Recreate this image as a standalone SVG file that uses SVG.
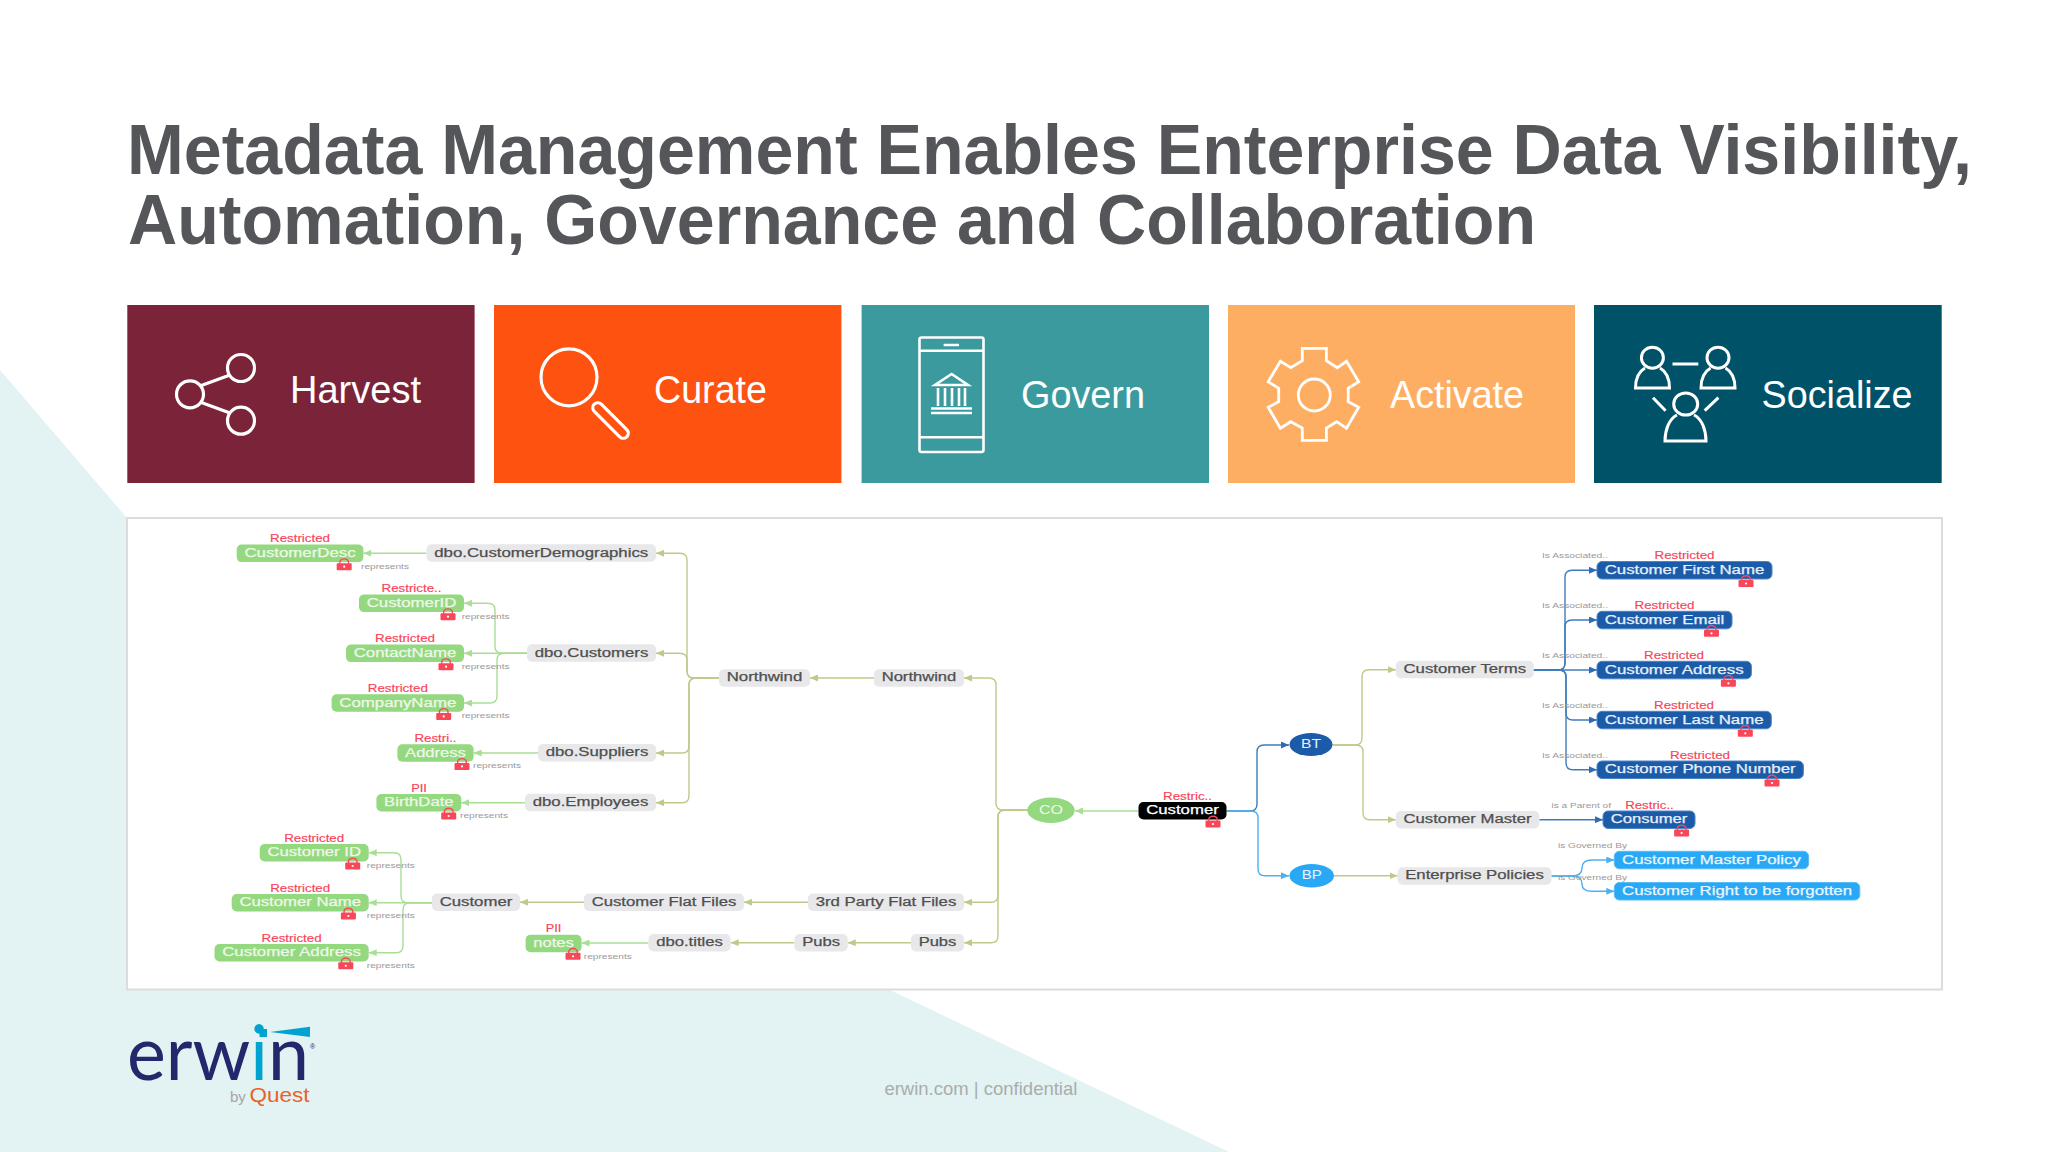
<svg xmlns="http://www.w3.org/2000/svg" width="2048" height="1152" viewBox="0 0 2048 1152">
<style>
text{font-family:"Liberation Sans",Arial,sans-serif}
.title{font-size:70px;font-weight:700;fill:#54565a}
.card{font-size:39px;fill:#fff}
.ic{fill:none;stroke:#fff;stroke-width:3.2;stroke-linejoin:miter}
.p{rx:5px;ry:5px}
.g{fill:#e8e8ea}.g+text{fill:#4f4f4f;stroke:#4f4f4f}
.l{fill:#94d87f}.l+text{fill:#edf8e8;stroke:#edf8e8}
.b{fill:#1c5ba8;stroke:#4a86c8;stroke-width:1}.b+text{fill:#e6f0fa;stroke:#e6f0fa}
.s{fill:#29a8f5;stroke:#5abcf5;stroke-width:1}.s+text{fill:#eaf6ff;stroke:#eaf6ff}
.k{fill:#000}.k+text{fill:#fff;stroke:#fff}
.t{font-size:12px;stroke-width:.25px}
.r{font-size:10px;fill:#f9435a;text-anchor:middle;stroke:#f9435a;stroke-width:.15px;transform:translateY(.8px)}
.e{font-size:6.8px;fill:#9a9a9a}
.c{fill:none;stroke-width:1.4}
.co{stroke:#bccb8a}.cg{stroke:#a9de95}.cb{stroke:#3f7cbd}.cs{stroke:#4fb0f0}
.c.co{marker-end:url(#ao)}.c.cg{marker-end:url(#ag)}.c.cb{marker-end:url(#ab)}.c.cs{marker-end:url(#as)}
.logo{font-family:Lato,"Liberation Sans",sans-serif}
</style>
<defs>
<marker id="ao" markerUnits="userSpaceOnUse" markerWidth="9" markerHeight="7" refX="8" refY="3.5" orient="auto"><path d="M8,0 V7 L0,3.5 Z" transform="rotate(180 4 3.5)" fill="#bccb8a"/></marker>
<marker id="ag" markerUnits="userSpaceOnUse" markerWidth="9" markerHeight="7" refX="8" refY="3.5" orient="auto"><path d="M8,0 V7 L0,3.5 Z" transform="rotate(180 4 3.5)" fill="#a9de95"/></marker>
<marker id="ab" markerUnits="userSpaceOnUse" markerWidth="9" markerHeight="7" refX="8" refY="3.5" orient="auto"><path d="M8,0 V7 L0,3.5 Z" transform="rotate(180 4 3.5)" fill="#2f6db3"/></marker>
<marker id="as" markerUnits="userSpaceOnUse" markerWidth="9" markerHeight="7" refX="8" refY="3.5" orient="auto"><path d="M8,0 V7 L0,3.5 Z" transform="rotate(180 4 3.5)" fill="#4fb0f0"/></marker>
<g id="lock"><path d="M-4.3,-1 V-2.6 A4.3,3.2 0 0 1 4.3,-2.6 V-1" fill="none" stroke="#f9475a" stroke-width="1.4"/><rect x="-7.5" y="-1.5" width="15" height="7" rx="1" fill="#f9475a"/><circle cx="0" cy="2" r="1.1" fill="#fff"/></g>
</defs>
<rect width="2048" height="1152" fill="#fff"/>
<polygon points="0,370 127,518 127,990 890,990 1229,1152 0,1152" fill="#e3f2f2"/>
<text class="title" x="127" y="174.3" textLength="1845" lengthAdjust="spacingAndGlyphs">Metadata Management Enables Enterprise Data Visibility,</text>
<text class="title" x="128" y="244" textLength="1408" lengthAdjust="spacingAndGlyphs">Automation, Governance and Collaboration</text>

<g id="card-harvest"><rect x="127.3" y="305" width="347.3" height="178" fill="#7b2439"/>
<g class="ic"><circle cx="190" cy="394.3" r="13.5"/><circle cx="241" cy="368" r="13.5"/><circle cx="241" cy="420.7" r="13.5"/><path d="M200,386 L230,375 M200,402 L230,413"/></g>
<text class="card" x="290" y="403" textLength="131" lengthAdjust="spacingAndGlyphs">Harvest</text></g>
<g id="card-curate"><rect x="494" y="305" width="347.4" height="178" fill="#fe5211"/>
<g class="ic"><ellipse cx="569" cy="377.3" rx="28" ry="28.5"/><rect x="605.5" y="397.5" width="10" height="46" rx="5" transform="rotate(-45 610.5 420.5)"/></g>
<text class="card" x="654" y="403" textLength="113" lengthAdjust="spacingAndGlyphs">Curate</text></g>
<g id="card-govern"><rect x="861.6" y="305" width="347.4" height="178" fill="#3a9a9e"/>
<g class="ic" style="stroke-width:2.6"><rect x="919.5" y="337.5" width="64" height="114.5" rx="2"/><path d="M919.5,350.7 H983.5 M919.5,437.3 H983.5 M943.6,345 H959"/>
<path d="M951.6,374 L935,385 H968 Z M938,388 V406 M945,388 V406 M952,388 V406 M959,388 V406 M965,388 V406 M931,408.5 H972 M931,413 H972"/></g>
<text class="card" x="1021" y="408" textLength="124" lengthAdjust="spacingAndGlyphs">Govern</text></g>
<g id="card-activate"><rect x="1228" y="305" width="347" height="178" fill="#feae63"/>
<g class="ic" style="stroke-width:2.8"><polygon points="1302.3,348.3 1326.4,348.3 1326.4,360.7 1337.3,367.7 1346.5,361.3 1358.7,381.7 1348.2,388.3 1348.2,401.7 1358.7,407.3 1346.5,428.3 1336.7,421.7 1326.4,428 1326.4,440.3 1302.3,440.3 1302.3,428 1290.8,421.7 1280.4,428.3 1268.2,407.3 1278.7,401.7 1278.7,388.3 1268.2,381.7 1280.4,361.3 1290.8,367.7 1302.3,360.7"/><ellipse cx="1314.3" cy="395" rx="16" ry="16"/></g>
<text class="card" x="1390" y="408" textLength="134" lengthAdjust="spacingAndGlyphs">Activate</text></g>
<g id="card-socialize"><rect x="1594" y="305" width="347.7" height="178" fill="#005269"/>
<g class="ic" style="stroke-width:3"><ellipse cx="1652.4" cy="357.7" rx="11" ry="10.5"/><path d="M1645,368 C1638,372 1635.5,380 1635.5,388 H1669.5 C1669.5,380 1667,372 1660,368"/>
<ellipse cx="1718" cy="357.7" rx="11" ry="10.5"/><path d="M1710.6,368 C1703.6,372 1701,380 1701,388 H1735 C1735,380 1732.5,372 1725.5,368"/>
<ellipse cx="1685.7" cy="404" rx="12" ry="11"/><path d="M1677,415 C1669,419 1665,430 1665,441 H1706 C1706,430 1702,419 1694,415"/>
<path d="M1672.5,364 H1698.3 M1653,397.7 L1665.6,410.7 M1718.4,397.7 L1704.7,410.7"/></g>
<text class="card" x="1761.5" y="408" textLength="151" lengthAdjust="spacingAndGlyphs">Socialize</text></g>

<rect id="panel" x="127" y="518" width="1815" height="471.5" fill="#fff" stroke="#dcdcdc" stroke-width="2"/>

<g id="connectors">
<path class="c co" d="M1027.6 810 H1003 Q996 810 996 803 V685 Q996 678 989 678 H964"/>
<path class="c co" d="M1027.6 810 H1005 Q998 810 998 817 V895.3 Q998 902.3 991 902.3 H964"/>
<path class="c co" d="M1027.6 810 H1005 Q998 810 998 817 V935.7 Q998 942.7 991 942.7 H964"/>
<path class="c co" d="M874 678 H810"/>
<path class="c co" d="M719 678 H694 Q687 678 687 671 V560.3 Q687 553.3 680 553.3 H656"/>
<path class="c co" d="M719 678 H694 Q687 678 687 671 V660.3 Q687 653.3 680 653.3 H656"/>
<path class="c co" d="M719 678 H696 Q689 678 689 685 V746 Q689 753 682 753 H656"/>
<path class="c co" d="M719 678 H696 Q689 678 689 685 V795.7 Q689 802.7 682 802.7 H656"/>
<path class="c co" d="M808 902.3 H744"/>
<path class="c co" d="M584 902.3 H520"/>
<path class="c co" d="M911 942.7 H847.7"/>
<path class="c co" d="M794.5 942.7 H730.6"/>
<path class="c co" d="M1332.5 745 H1355 Q1362 745 1362 738 V676.7 Q1362 669.7 1369 669.7 H1395.8"/>
<path class="c co" d="M1332.5 745 H1356 Q1363 745 1363 752 V812.7 Q1363 819.7 1370 819.7 H1395.8"/>
<path class="c co" d="M1334 875.7 H1397.5"/>
<path class="c cg" d="M426.5 553.3 H363.4"/>
<path class="c cg" d="M527 653.3 H502 Q495 653.3 495 646.3 V610.3 Q495 603.3 488 603.3 H464"/>
<path class="c cg" d="M527 653.3 H464"/>
<path class="c cg" d="M527 653.3 H504 Q497 653.3 497 660.3 V696 Q497 703 490 703 H464"/>
<path class="c cg" d="M538 753 H473.6"/>
<path class="c cg" d="M525 802.7 H461.3"/>
<path class="c cg" d="M432 902.7 H408 Q401 902.7 401 895.7 V859.7 Q401 852.7 394 852.7 H368.7"/>
<path class="c cg" d="M432 902.7 H368.7"/>
<path class="c cg" d="M432 902.7 H410 Q403 902.7 403 909.7 V945.7 Q403 952.7 396 952.7 H368.7"/>
<path class="c cg" d="M648.5 943 H581.5"/>
<path class="c cg" d="M1138.5 811 H1075"/>
<path class="c cb" d="M1226.5 811 H1250 Q1257 811 1257 804 V752 Q1257 745 1264 745 H1289"/>
<path class="c cs" d="M1226.5 811 H1251 Q1258 811 1258 818 V868.7 Q1258 875.7 1265 875.7 H1289"/>
<path class="c cb" d="M1533.7 670 H1558 Q1565 670 1565 663 V577.3 Q1565 570.3 1572 570.3 H1597"/>
<path class="c cb" d="M1533.7 670 H1558 Q1565 670 1565 663 V627 Q1565 620 1572 620 H1597"/>
<path class="c cb" d="M1533.7 670 H1597"/>
<path class="c cb" d="M1533.7 670 H1559 Q1566 670 1566 677 V713 Q1566 720 1573 720 H1597"/>
<path class="c cb" d="M1533.7 670 H1559 Q1566 670 1566 677 V762.7 Q1566 769.7 1573 769.7 H1597"/>
<path class="c cb" d="M1539.3 819.7 H1603"/>
<path class="c cs" d="M1551.5 876 H1572 Q1582 876 1582 868 Q1582 860 1592 860 H1614.3"/>
<path class="c cs" d="M1551.5 876 H1572 Q1582 876 1582 884 Q1582 891.3 1592 891.3 H1614.3"/>
<text class="e" x="361" y="568.6" textLength="48" lengthAdjust="spacingAndGlyphs">represents</text>
<text class="e" x="461.7" y="618.6" textLength="48" lengthAdjust="spacingAndGlyphs">represents</text>
<text class="e" x="461.7" y="668.6" textLength="48" lengthAdjust="spacingAndGlyphs">represents</text>
<text class="e" x="461.7" y="718.3" textLength="48" lengthAdjust="spacingAndGlyphs">represents</text>
<text class="e" x="473" y="768.3" textLength="48" lengthAdjust="spacingAndGlyphs">represents</text>
<text class="e" x="460" y="818" textLength="48" lengthAdjust="spacingAndGlyphs">represents</text>
<text class="e" x="366.8" y="868" textLength="48" lengthAdjust="spacingAndGlyphs">represents</text>
<text class="e" x="366.8" y="918" textLength="48" lengthAdjust="spacingAndGlyphs">represents</text>
<text class="e" x="366.8" y="968" textLength="48" lengthAdjust="spacingAndGlyphs">represents</text>
<text class="e" x="583.8" y="958.7" textLength="48" lengthAdjust="spacingAndGlyphs">represents</text>
<text class="e" x="1542" y="558.4" textLength="66" lengthAdjust="spacingAndGlyphs">Is Associated..</text>
<text class="e" x="1542" y="608.4" textLength="66" lengthAdjust="spacingAndGlyphs">Is Associated..</text>
<text class="e" x="1542" y="658.4" textLength="66" lengthAdjust="spacingAndGlyphs">Is Associated..</text>
<text class="e" x="1542" y="708.2" textLength="66" lengthAdjust="spacingAndGlyphs">Is Associated..</text>
<text class="e" x="1542" y="758" textLength="66" lengthAdjust="spacingAndGlyphs">Is Associated..</text>
<text class="e" x="1551.5" y="807.7" textLength="59.5" lengthAdjust="spacingAndGlyphs">is a Parent of</text>
<text class="e" x="1558" y="848.3" textLength="69" lengthAdjust="spacingAndGlyphs">is Governed By</text>
<text class="e" x="1558" y="879.6" textLength="69" lengthAdjust="spacingAndGlyphs">is Governed By</text>
</g>

<g id="n-customerdesc"><text class="r" x="300" y="541.4" textLength="60" lengthAdjust="spacingAndGlyphs">Restricted</text><rect class="p l" x="236.7" y="544.6" width="126.7" height="17.5"/><text class="t" x="244.4" y="556.8" textLength="111.3" lengthAdjust="spacingAndGlyphs">CustomerDesc</text><use href="#lock" x="344.2" y="564.7"/></g>
<g id="n-customerid"><text class="r" x="411.5" y="591.4" textLength="60" lengthAdjust="spacingAndGlyphs">Restricte..</text><rect class="p l" x="359" y="594.6" width="105" height="17.5"/><text class="t" x="366.7" y="606.8" textLength="89.6" lengthAdjust="spacingAndGlyphs">CustomerID</text><use href="#lock" x="448" y="614.7"/></g>
<g id="n-contactname"><text class="r" x="405" y="641.4" textLength="60" lengthAdjust="spacingAndGlyphs">Restricted</text><rect class="p l" x="346" y="644.6" width="118" height="17.5"/><text class="t" x="353.7" y="656.8" textLength="102.6" lengthAdjust="spacingAndGlyphs">ContactName</text><use href="#lock" x="446" y="664.7"/></g>
<g id="n-companyname"><text class="r" x="397.8" y="691.1" textLength="60" lengthAdjust="spacingAndGlyphs">Restricted</text><rect class="p l" x="331.6" y="694.3" width="132.4" height="17.5"/><text class="t" x="339.3" y="706.5" textLength="117" lengthAdjust="spacingAndGlyphs">CompanyName</text><use href="#lock" x="443.7" y="714.4"/></g>
<g id="n-address"><text class="r" x="435.5" y="741.1" textLength="42" lengthAdjust="spacingAndGlyphs">Restri..</text><rect class="p l" x="397.4" y="744.3" width="76.2" height="17.5"/><text class="t" x="405.1" y="756.5" textLength="60.8" lengthAdjust="spacingAndGlyphs">Address</text><use href="#lock" x="462" y="764.4"/></g>
<g id="n-birthdate"><text class="r" x="419" y="790.8" textLength="15.7" lengthAdjust="spacingAndGlyphs">PII</text><rect class="p l" x="376.4" y="794" width="84.9" height="17.5"/><text class="t" x="384.1" y="806.2" textLength="69.5" lengthAdjust="spacingAndGlyphs">BirthDate</text><use href="#lock" x="448.7" y="814"/></g>
<g id="n-customer-id"><text class="r" x="314.2" y="840.8" textLength="60" lengthAdjust="spacingAndGlyphs">Restricted</text><rect class="p l" x="259.7" y="844" width="109" height="17.5"/><text class="t" x="267.4" y="856.2" textLength="93.6" lengthAdjust="spacingAndGlyphs">Customer ID</text><use href="#lock" x="352.7" y="864"/></g>
<g id="n-customer-name"><text class="r" x="300.2" y="890.8" textLength="60" lengthAdjust="spacingAndGlyphs">Restricted</text><rect class="p l" x="231.7" y="894" width="137" height="17.5"/><text class="t" x="239.4" y="906.2" textLength="121.6" lengthAdjust="spacingAndGlyphs">Customer Name</text><use href="#lock" x="348.4" y="914"/></g>
<g id="n-customer-address"><text class="r" x="291.6" y="940.8" textLength="60" lengthAdjust="spacingAndGlyphs">Restricted</text><rect class="p l" x="214.5" y="944" width="154.2" height="17.5"/><text class="t" x="222.2" y="956.2" textLength="138.8" lengthAdjust="spacingAndGlyphs">Customer Address</text><use href="#lock" x="345.8" y="963.8"/></g>
<g id="n-notes"><text class="r" x="553.5" y="931.5" textLength="15.7" lengthAdjust="spacingAndGlyphs">PII</text><rect class="p l" x="525.6" y="934.7" width="55.9" height="17.5"/><text class="t" x="533.3" y="946.8" textLength="40.5" lengthAdjust="spacingAndGlyphs">notes</text><use href="#lock" x="573" y="954.3"/></g>

<g id="n-dbo-customerdemographics"><rect class="p g" x="426.5" y="544.3" width="229.5" height="17.5"/><text class="t" x="434.2" y="556.5" textLength="214.1" lengthAdjust="spacingAndGlyphs">dbo.CustomerDemographics</text></g>
<g id="n-dbo-customers"><rect class="p g" x="527" y="644.3" width="129" height="17.5"/><text class="t" x="534.7" y="656.5" textLength="113.6" lengthAdjust="spacingAndGlyphs">dbo.Customers</text></g>
<g id="n-dbo-suppliers"><rect class="p g" x="538" y="744" width="118" height="17.5"/><text class="t" x="545.7" y="756.2" textLength="102.6" lengthAdjust="spacingAndGlyphs">dbo.Suppliers</text></g>
<g id="n-dbo-employees"><rect class="p g" x="525" y="793.7" width="131" height="17.5"/><text class="t" x="532.7" y="805.9" textLength="115.6" lengthAdjust="spacingAndGlyphs">dbo.Employees</text></g>
<g id="n-northwind-1"><rect class="p g" x="719" y="669.2" width="91" height="17.5"/><text class="t" x="726.7" y="681.4" textLength="75.6" lengthAdjust="spacingAndGlyphs">Northwind</text></g>
<g id="n-northwind-2"><rect class="p g" x="874" y="669.2" width="90" height="17.5"/><text class="t" x="881.7" y="681.4" textLength="74.6" lengthAdjust="spacingAndGlyphs">Northwind</text></g>
<g id="n-customer-grey"><rect class="p g" x="432" y="893.5" width="88" height="17.5"/><text class="t" x="439.7" y="905.7" textLength="72.6" lengthAdjust="spacingAndGlyphs">Customer</text></g>
<g id="n-customer-flat-files"><rect class="p g" x="584" y="893.5" width="160" height="17.5"/><text class="t" x="591.7" y="905.7" textLength="144.6" lengthAdjust="spacingAndGlyphs">Customer Flat Files</text></g>
<g id="n-3rd-party"><rect class="p g" x="808" y="893.5" width="156" height="17.5"/><text class="t" x="815.7" y="905.7" textLength="140.6" lengthAdjust="spacingAndGlyphs">3rd Party Flat Files</text></g>
<g id="n-dbo-titles"><rect class="p g" x="648.5" y="934" width="82" height="17.5"/><text class="t" x="656.2" y="946.2" textLength="66.6" lengthAdjust="spacingAndGlyphs">dbo.titles</text></g>
<g id="n-pubs-1"><rect class="p g" x="794.5" y="934" width="53.2" height="17.5"/><text class="t" x="802.2" y="946.2" textLength="37.8" lengthAdjust="spacingAndGlyphs">Pubs</text></g>
<g id="n-pubs-2"><rect class="p g" x="911" y="934" width="53" height="17.5"/><text class="t" x="918.7" y="946.2" textLength="37.6" lengthAdjust="spacingAndGlyphs">Pubs</text></g>

<g id="n-co"><ellipse cx="1051" cy="810.3" rx="23.7" ry="12.7" fill="#94d87f"/><text class="t" x="1051" y="814" text-anchor="middle" fill="#edf8e8" textLength="24" lengthAdjust="spacingAndGlyphs">CO</text></g>
<g id="n-customer"><text class="r" x="1187.5" y="798.8" textLength="49" lengthAdjust="spacingAndGlyphs">Restric..</text><rect class="p k" x="1138.5" y="802" width="88" height="17.5"/><text class="t" x="1146.2" y="814.2" textLength="72.6" lengthAdjust="spacingAndGlyphs">Customer</text><use href="#lock" x="1213" y="822"/></g>
<g id="n-bt"><ellipse cx="1311" cy="744.5" rx="21.5" ry="11.5" fill="#1c5ba8"/><text class="t" x="1311" y="748" text-anchor="middle" fill="#e6f0fa" textLength="20" lengthAdjust="spacingAndGlyphs">BT</text></g>
<g id="n-bp"><ellipse cx="1311.7" cy="875.7" rx="22.3" ry="11.7" fill="#29a8f5"/><text class="t" x="1311.7" y="879.2" text-anchor="middle" fill="#eaf6ff" textLength="20" lengthAdjust="spacingAndGlyphs">BP</text></g>
<g id="n-customer-terms"><rect class="p g" x="1395.8" y="660.7" width="137.9" height="17.5"/><text class="t" x="1403.5" y="672.9" textLength="122.5" lengthAdjust="spacingAndGlyphs">Customer Terms</text></g>
<g id="n-customer-master"><rect class="p g" x="1395.8" y="811" width="143.5" height="17.5"/><text class="t" x="1403.5" y="823.2" textLength="128.1" lengthAdjust="spacingAndGlyphs">Customer Master</text></g>
<g id="n-enterprise-policies"><rect class="p g" x="1397.5" y="867.2" width="154" height="17.5"/><text class="t" x="1405.2" y="879.4" textLength="138.6" lengthAdjust="spacingAndGlyphs">Enterprise Policies</text></g>

<g id="n-first-name"><text class="r" x="1684.5" y="558.5" textLength="60" lengthAdjust="spacingAndGlyphs">Restricted</text><rect class="p b" x="1597" y="561.5" width="175" height="17.5"/><text class="t" x="1604.7" y="573.7" textLength="159.6" lengthAdjust="spacingAndGlyphs">Customer First Name</text><use href="#lock" x="1746" y="581.5"/></g>
<g id="n-email"><text class="r" x="1664.5" y="608.3" textLength="60" lengthAdjust="spacingAndGlyphs">Restricted</text><rect class="p b" x="1597" y="611.3" width="135" height="17.5"/><text class="t" x="1604.7" y="623.5" textLength="119.6" lengthAdjust="spacingAndGlyphs">Customer Email</text><use href="#lock" x="1711.5" y="631.3"/></g>
<g id="n-address-b"><text class="r" x="1674" y="658.3" textLength="60" lengthAdjust="spacingAndGlyphs">Restricted</text><rect class="p b" x="1597" y="661.3" width="154.4" height="17.5"/><text class="t" x="1604.7" y="673.5" textLength="139" lengthAdjust="spacingAndGlyphs">Customer Address</text><use href="#lock" x="1728.4" y="681.3"/></g>
<g id="n-last-name"><text class="r" x="1684" y="708.3" textLength="60" lengthAdjust="spacingAndGlyphs">Restricted</text><rect class="p b" x="1597" y="711.3" width="174.3" height="17.5"/><text class="t" x="1604.7" y="723.5" textLength="158.9" lengthAdjust="spacingAndGlyphs">Customer Last Name</text><use href="#lock" x="1745.3" y="731.3"/></g>
<g id="n-phone"><text class="r" x="1700" y="758" textLength="60" lengthAdjust="spacingAndGlyphs">Restricted</text><rect class="p b" x="1597" y="761" width="206.4" height="17.5"/><text class="t" x="1604.7" y="773.2" textLength="191" lengthAdjust="spacingAndGlyphs">Customer Phone Number</text><use href="#lock" x="1772" y="781"/></g>
<g id="n-consumer"><text class="r" x="1649.5" y="808" textLength="48.6" lengthAdjust="spacingAndGlyphs">Restric..</text><rect class="p b" x="1603" y="811" width="92" height="17.5"/><text class="t" x="1610.7" y="823.2" textLength="76.6" lengthAdjust="spacingAndGlyphs">Consumer</text><use href="#lock" x="1681.6" y="831"/></g>
<g id="n-master-policy"><rect class="p s" x="1614.3" y="851.3" width="194.3" height="17.5"/><text class="t" x="1622" y="863.5" textLength="178.9" lengthAdjust="spacingAndGlyphs">Customer Master Policy</text></g>
<g id="n-right-forgotten"><rect class="p s" x="1614.3" y="882.5" width="245.5" height="17.5"/><text class="t" x="1622" y="894.7" textLength="230.1" lengthAdjust="spacingAndGlyphs">Customer Right to be forgotten</text></g>

<g id="logo">
<text class="logo" x="127" y="1080" font-size="75" fill="#22286b" textLength="182" lengthAdjust="spacingAndGlyphs">erw<tspan fill="#00a3d0">i</tspan>n</text>
<rect x="259.5" y="1029" width="7.5" height="8" fill="#00a3d0"/>
<polygon points="270,1032 310,1026.7 310,1037" fill="#00a3d0"/>
<text x="310" y="1049" font-size="7" fill="#22286b">®</text>
<text x="230" y="1102" font-size="15" fill="#a6a6a6">by</text>
<text x="249.5" y="1102" font-size="21" fill="#e8622a" textLength="60" lengthAdjust="spacingAndGlyphs">Quest</text>
</g>
<text id="footer" x="884.4" y="1094.7" font-size="19" fill="#a9adad" textLength="193" lengthAdjust="spacingAndGlyphs">erwin.com | confidential</text>
</svg>
